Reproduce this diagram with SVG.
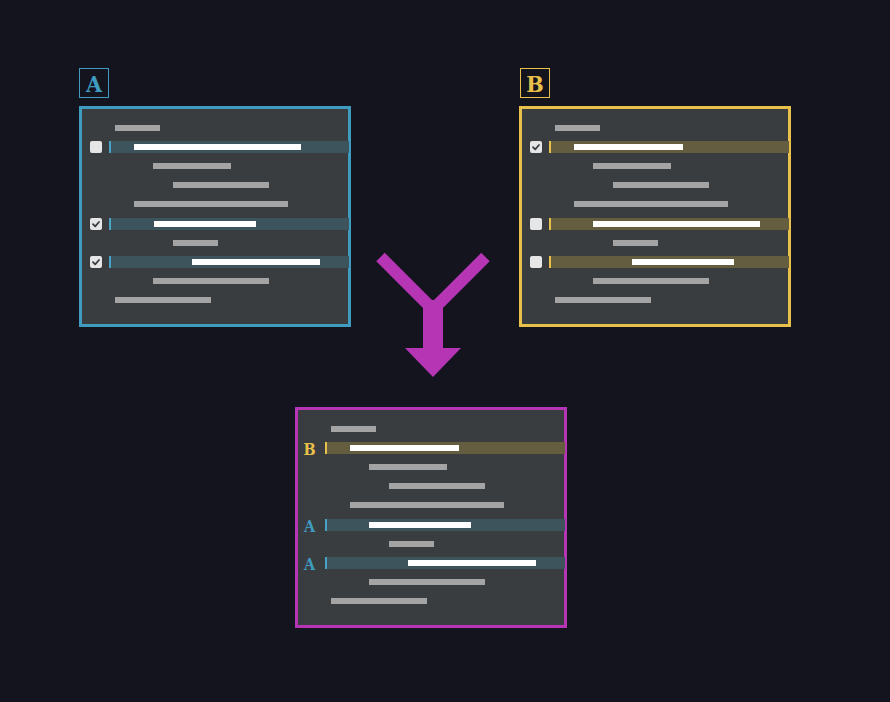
<svg xmlns="http://www.w3.org/2000/svg" width="890" height="702" viewBox="0 0 890 702">
<style>
.panel{fill:#3a3d3f;stroke-width:3}
.g{fill:#a4a4a4}
.w{fill:#ffffff}
.bandA{fill:#3d545d}
.bandB{fill:#645d3f}
.accA{fill:#4aa3c6}
.accB{fill:#e8c04a}
.cb{fill:#e6e6e6}
.ck{fill:none;stroke:#3a3d3f;stroke-width:1.8;stroke-linecap:round;stroke-linejoin:round}
.lbl{font-family:"DejaVu Serif Condensed","DejaVu Serif","Liberation Serif",serif;font-stretch:condensed;font-weight:bold;text-anchor:middle}
</style>
<defs>
<g id="cbox"><rect class="cb" x="0" y="0" width="12" height="12" rx="2"/></g>
<g id="cchk"><rect class="cb" x="0" y="0" width="12" height="12" rx="2"/><path class="ck" d="M3,6.2 L5.2,8.3 L9,4"/></g>
</defs>
<rect width="890" height="702" fill="#14141e"/>

<g id="labelA">
<rect x="79.5" y="68.5" width="29" height="29" fill="#14141e" stroke="#3f9cc0" stroke-width="1"/>
<text class="lbl" x="94" y="92" font-size="23" fill="#3f9cc0">A</text>
</g>
<g id="labelB">
<rect x="520.5" y="68.5" width="29" height="29" fill="#14141e" stroke="#e8c04a" stroke-width="1"/>
<text class="lbl" x="535" y="92" font-size="23" fill="#e8c04a">B</text>
</g>

<g id="panelA">
<rect class="panel" x="80.5" y="107.5" width="269" height="218" stroke="#3f9cc0"/>
<rect class="g" x="115" y="125" width="45" height="6"/>
<rect class="bandA" x="109" y="141" width="240" height="12"/><rect class="accA" x="109" y="141" width="2" height="12"/>
<rect class="w" x="134" y="144" width="167" height="6"/>
<use href="#cbox" x="90" y="141"/>
<rect class="g" x="153" y="163" width="78" height="6"/>
<rect class="g" x="173" y="182" width="96" height="6"/>
<rect class="g" x="134" y="201" width="154" height="6"/>
<rect class="bandA" x="109" y="218" width="240" height="12"/><rect class="accA" x="109" y="218" width="2" height="12"/>
<rect class="w" x="154" y="221" width="102" height="6"/>
<use href="#cchk" x="90" y="218"/>
<rect class="g" x="173" y="240" width="45" height="6"/>
<rect class="bandA" x="109" y="256" width="240" height="12"/><rect class="accA" x="109" y="256" width="2" height="12"/>
<rect class="w" x="192" y="259" width="128" height="6"/>
<use href="#cchk" x="90" y="256"/>
<rect class="g" x="153" y="278" width="116" height="6"/>
<rect class="g" x="115" y="297" width="96" height="6"/>
</g>

<g id="panelB">
<rect class="panel" x="520.5" y="107.5" width="269" height="218" stroke="#e8c04a"/>
<rect class="g" x="555" y="125" width="45" height="6"/>
<rect class="bandB" x="549" y="141" width="240" height="12"/><rect class="accB" x="549" y="141" width="2" height="12"/>
<rect class="w" x="574" y="144" width="109" height="6"/>
<use href="#cchk" x="530" y="141"/>
<rect class="g" x="593" y="163" width="78" height="6"/>
<rect class="g" x="613" y="182" width="96" height="6"/>
<rect class="g" x="574" y="201" width="154" height="6"/>
<rect class="bandB" x="549" y="218" width="240" height="12"/><rect class="accB" x="549" y="218" width="2" height="12"/>
<rect class="w" x="593" y="221" width="167" height="6"/>
<use href="#cbox" x="530" y="218"/>
<rect class="g" x="613" y="240" width="45" height="6"/>
<rect class="bandB" x="549" y="256" width="240" height="12"/><rect class="accB" x="549" y="256" width="2" height="12"/>
<rect class="w" x="632" y="259" width="102" height="6"/>
<use href="#cbox" x="530" y="256"/>
<rect class="g" x="593" y="278" width="116" height="6"/>
<rect class="g" x="555" y="297" width="96" height="6"/>
</g>

<g id="merged">
<rect class="panel" x="296.5" y="408.5" width="269" height="218" stroke="#b535b5"/>
<rect class="g" x="331" y="426" width="45" height="6"/>
<rect class="bandB" x="325" y="442" width="240" height="12"/><rect class="accB" x="325" y="442" width="2" height="12"/>
<rect class="w" x="350" y="445" width="109" height="6"/>
<text class="lbl" x="309.5" y="455" font-size="16" fill="#e8c04a">B</text>
<rect class="g" x="369" y="464" width="78" height="6"/>
<rect class="g" x="389" y="483" width="96" height="6"/>
<rect class="g" x="350" y="502" width="154" height="6"/>
<rect class="bandA" x="325" y="519" width="240" height="12"/><rect class="accA" x="325" y="519" width="2" height="12"/>
<rect class="w" x="369" y="522" width="102" height="6"/>
<text class="lbl" x="309.5" y="532" font-size="16" fill="#3f9cc0">A</text>
<rect class="g" x="389" y="541" width="45" height="6"/>
<rect class="bandA" x="325" y="557" width="240" height="12"/><rect class="accA" x="325" y="557" width="2" height="12"/>
<rect class="w" x="408" y="560" width="128" height="6"/>
<text class="lbl" x="309.5" y="570" font-size="16" fill="#3f9cc0">A</text>
<rect class="g" x="369" y="579" width="116" height="6"/>
<rect class="g" x="331" y="598" width="96" height="6"/>
</g>

<g id="connectors">
<path d="M380.5,257 L433,309.5 L485.5,257" fill="none" stroke="#b535b5" stroke-width="12" stroke-linejoin="miter"/>
<rect x="423" y="300" width="20" height="49" fill="#b535b5"/>
<polygon points="405,348 461,348 433,377" fill="#b535b5"/>
</g>
</svg>
